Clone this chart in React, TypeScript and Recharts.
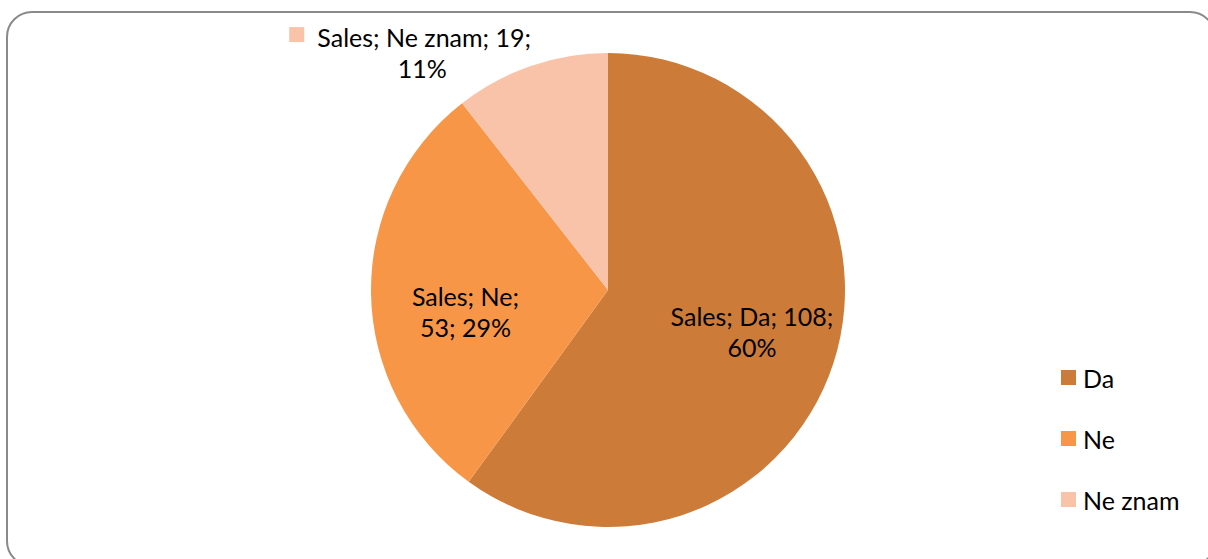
import React from "react";
import { PieChart, Pie, Cell, Legend } from "recharts";

const seriesName = "Sales";
const categories = ["Da", "Ne", "Ne znam"];
const values = [108, 53, 19];
const percents = ["60%", "29%", "11%"];
const colors = ["#CC7B39", "#F79646", "#F9C3A9"];

const data = categories.map((name, i) => ({ name, value: values[i], pct: percents[i] }));

const FONT = "Lato, 'Liberation Sans', sans-serif";
const FS = 25;

const renderLabel = (props: any) => {
  const { cx, cy, midAngle, outerRadius, index } = props;
  const d = data[index];
  const RAD = Math.PI / 180;
  if (index === 0) {
    const r = outerRadius * 0.63;
    const x = cx + r * Math.cos(-midAngle * RAD) + 2;
    const y = cy + r * Math.sin(-midAngle * RAD);
    return (
      <text x={x} y={y} textAnchor="middle" fontFamily={FONT} fontSize={FS} fill="#000">
        <tspan x={x} dy={-10}>{`${seriesName}; ${d.name}; ${d.value};`}</tspan>
        <tspan x={x} dy={31}>{d.pct}</tspan>
      </text>
    );
  }
  if (index === 1) {
    const r = outerRadius * 0.61;
    const x = cx + r * Math.cos(-midAngle * RAD) + 2;
    const y = cy + r * Math.sin(-midAngle * RAD) + 20;
    return (
      <text x={x} y={y} textAnchor="middle" fontFamily={FONT} fontSize={FS} fill="#000">
        <tspan x={x} dy={-7}>{`${seriesName}; ${d.name};`}</tspan>
        <tspan x={x} dy={31}>{`${d.value}; ${d.pct}`}</tspan>
      </text>
    );
  }
  // outside label with legend key
  const x = cx - outerRadius * 0.805;
  const y = cy - outerRadius * 1.025;
  return (
    <g>
      <rect x={x - 128} y={y - 20} width={15} height={15} fill={colors[index]} />
      <text x={x} y={y} textAnchor="middle" fontFamily={FONT} fontSize={FS} fill="#000">
        <tspan x={x + 7} dy={0}>{`${seriesName}; ${d.name}; ${d.value};`}</tspan>
        <tspan x={x + 5} dy={31}>{d.pct}</tspan>
      </text>
    </g>
  );
};

const renderLegend = () => (
  <div style={{ fontFamily: FONT, fontSize: FS, color: "#000" }}>
    {data.map((d, i) => (
      <div key={d.name} style={{ display: "flex", alignItems: "center", height: 61 }}>
        <div style={{ width: 15, height: 15, background: colors[i], marginRight: 7 }} />
        <span style={{ lineHeight: "30px" }}>{d.name}</span>
      </div>
    ))}
  </div>
);

export default function App() {
  return (
    <div style={{ position: "absolute", left: 0, top: 0, width: 1208, height: 559, overflow: "hidden", background: "#fff" }}>
      <div
        style={{
          position: "absolute",
          left: 6,
          top: 11,
          width: 1210,
          height: 556,
          border: "2px solid #8a8a8a",
          borderRadius: 26,
          boxSizing: "border-box",
        }}
      />
      <div style={{ position: "absolute", left: 0, top: 0 }}>
        <PieChart width={1208} height={559} margin={{ top: 0, right: 0, bottom: 0, left: 0 }}>
          <Pie
            data={data}
            dataKey="value"
            nameKey="name"
            cx={608}
            cy={290}
            outerRadius={237}
            startAngle={90}
            endAngle={-270}
            stroke="none"
            label={renderLabel}
            labelLine={false}
            isAnimationActive={false}
          >
            {data.map((d, i) => (
              <Cell key={d.name} fill={colors[i]} />
            ))}
          </Pie>
          <Legend
            layout="vertical"
            align="right"
            verticalAlign="top"
            content={renderLegend}
            wrapperStyle={{ position: "absolute", left: 1061, top: 347, width: 140 }}
          />
        </PieChart>
      </div>
    </div>
  );
}
